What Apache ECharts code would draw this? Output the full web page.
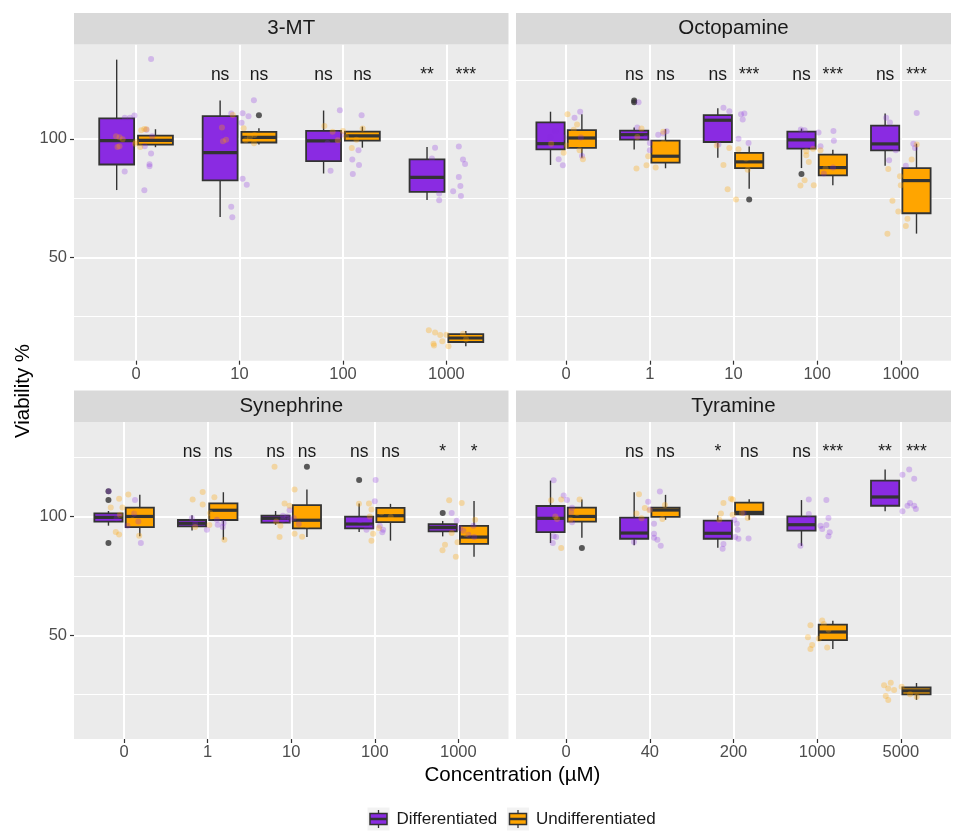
<!DOCTYPE html>
<html>
<head>
<meta charset="utf-8">
<script src="https://cdn.jsdelivr.net/npm/echarts@6/dist/echarts.min.js"></script>
<style>
html, body { margin: 0; padding: 0; background: #fff; }
#chart { width: 963px; height: 838px; }
</style>
</head>
<body>
<div id="chart"></div>
<script>
// facet titles, x categories, y ticks
const panelTitles = ['3-MT', 'Octopamine', 'Synephrine', 'Tyramine'];
const mtCats = ['0', '10', '100', '1000'];
const octCats = ['0', '1', '10', '100', '1000'];
const synCats = ['0', '1', '10', '100', '1000'];
const tyrCats = ['0', '40', '200', '1000', '5000'];
const yMajor = [50, 100];
const yMinor = [25, 75, 125];
const groupNames = ['Differentiated', 'Undifferentiated'];

// box stats per concentration: [lower whisker, q1, median, q3, upper whisker]
const mtDiffBox = [[78.4, 89.2, 99.3, 108.7, 133.5], [67.0, 82.5, 94.2, 109.6, 116.2], [85.4, 90.6, 99.2, 103.4, 112.0], [74.2, 77.6, 83.8, 91.4, 96.6]];
const mtUndiffBox = [[96.5, 97.6, 99.4, 101.4, 104.1], [97.7, 98.5, 100.7, 103.0, 104.5], [96.3, 99.3, 101.3, 103.1, 105.2], [12.4, 14.2, 15.9, 17.5, 18.9]];
const octDiffBox = [[89.0, 95.6, 98.0, 107.0, 111.5], [95.5, 99.7, 101.8, 103.5, 104.8], [92.0, 98.7, 107.9, 110.1, 113.0], [87.7, 95.9, 99.6, 103.1, 104.4], [88.7, 95.2, 97.9, 105.6, 110.7]];
const octUndiffBox = [[92.1, 96.2, 100.4, 103.7, 110.4], [87.6, 90.0, 92.7, 99.3, 104.1], [78.9, 87.7, 90.3, 94.1, 96.8], [80.4, 84.6, 87.9, 93.4, 95.4], [60.0, 68.6, 82.4, 87.7, 98.0]];
const synDiffBox = [[96.2, 97.9, 99.7, 101.4, 102.4], [94.2, 95.9, 97.2, 98.6, 100.6], [96.6, 97.5, 99.3, 100.4, 102.4], [93.5, 95.1, 96.9, 100.0, 105.5], [91.7, 93.8, 95.4, 96.8, 98.2]];
const synUndiffBox = [[91.8, 95.6, 100.1, 103.8, 109.2], [90.3, 98.6, 102.7, 105.6, 110.3], [91.4, 95.1, 98.5, 104.9, 111.4], [89.9, 97.7, 100.4, 103.7, 105.4], [83.1, 88.5, 91.4, 96.1, 106.6]];
const tyrDiffBox = [[88.9, 93.5, 99.3, 104.5, 115.2], [88.0, 90.7, 93.1, 99.6, 110.3], [86.9, 90.7, 93.0, 98.3, 100.6], [87.7, 94.1, 96.6, 100.1, 107.0], [102.3, 104.6, 108.3, 115.2, 119.9]];
const tyrUndiffBox = [[91.1, 97.9, 100.1, 103.8, 107.2], [98.7, 99.9, 102.8, 103.8, 109.2], [98.7, 101.0, 101.8, 105.9, 107.3], [44.2, 48.0, 51.4, 54.5, 56.1], [22.8, 25.1, 26.6, 28.0, 29.9]];

// outliers: [concentration index (1-based), group (0 diff, 1 undiff), value]
const mtOutliers = [[2, 1, 110.0]];
const octOutliers = [[2, 0, 116.2], [2, 0, 115.5], [3, 1, 74.4], [4, 0, 85.2]];
const synOutliers = [[1, 0, 110.7], [1, 0, 107.0], [1, 0, 88.9], [3, 1, 121.0], [4, 0, 115.5], [5, 0, 101.5]];
const tyrOutliers = [[1, 1, 86.8]];

// jittered replicates: [x position on the concentration scale, viability]
const mtDiffPts = [[1.145, 133.8], [0.984, 109.9], [0.94, 108.9], [0.89, 108.9], [1.10, 103.9], [1.155, 101.1], [1.084, 96.9], [1.145, 93.8], [1.13, 89.3], [1.13, 88.5], [0.89, 86.2], [1.08, 78.3],
  [2.139, 116.3], [2.03, 110.8], [2.087, 109.6], [2.02, 106.8], [1.92, 110.7], [1.86, 102.5], [1.85, 99.4], [1.94, 98.2], [2.03, 83.2], [2.07, 80.6], [1.92, 71.3], [1.93, 66.9],
  [2.97, 112.1], [3.18, 110.0], [2.94, 102.3], [2.985, 101.8], [2.95, 98.7], [3.15, 95.2], [3.09, 91.3], [3.155, 89.0], [3.095, 85.2], [2.88, 86.6], [2.85, 98.3],
  [3.89, 96.3], [4.12, 96.8], [3.86, 91.7], [4.16, 91.3], [4.18, 89.4], [4.12, 83.9], [4.135, 80.1], [4.065, 77.9], [4.14, 75.9], [3.93, 74.1], [3.93, 76.9]];
const mtUndiffPts = [[0.806, 101.1], [0.84, 100.7], [0.87, 99.9], [0.82, 96.6], [0.84, 96.9], [1.05, 103.7], [1.08, 104.2], [1.10, 104.1], [1.0, 98.7], [1.04, 96.6], [0.99, 98.0],
  [1.935, 110.1], [2.04, 104.5], [1.83, 104.8], [1.84, 99.0], [2.14, 98.2], [2.145, 101.7], [2.10, 100.8], [2.06, 99.4], [1.87, 99.7],
  [2.82, 105.5], [2.90, 103.0], [3.0, 103.4], [3.03, 100.8], [3.085, 96.2], [3.19, 104.4], [3.13, 99.7], [2.95, 99.4],
  [3.83, 19.2], [3.89, 18.2], [3.94, 17.2], [4.0, 17.3], [3.875, 13.5], [3.88, 12.7], [3.96, 14.5], [4.02, 12.4], [4.16, 17.7], [4.19, 15.4]];
const octDiffPts = [[1.167, 111.5], [1.10, 109.0], [0.87, 103.4], [0.81, 100.6], [0.97, 100.6], [1.175, 100.6], [0.91, 91.4], [0.96, 88.9], [1.19, 92.8],
  [1.865, 115.5], [1.85, 104.8], [1.955, 100.6], [2.0, 98.3], [2.0, 95.2], [2.1, 101.8], [2.2, 103.2], [2.16, 102.3],
  [2.88, 113.2], [2.95, 111.7], [3.09, 110.4], [3.13, 110.7], [3.11, 108.2], [3.06, 100.1], [3.18, 98.3], [2.82, 97.7],
  [3.805, 104.0], [3.85, 103.7], [4.016, 102.7], [4.195, 103.4], [4.2, 99.2], [4.04, 96.9], [4.08, 85.4], [4.19, 87.9],
  [4.825, 109.0], [4.87, 106.9], [5.19, 111.0], [4.94, 95.2], [4.86, 91.0], [5.06, 88.7], [5.15, 98.0], [5.17, 96.2]];
const octUndiffPts = [[1.016, 110.4], [1.13, 106.1], [1.09, 103.9], [1.01, 97.2], [0.97, 94.2], [1.16, 95.2], [1.2, 91.4], [0.82, 98.0],
  [1.90, 104.4], [1.85, 100.8], [1.98, 92.7], [1.96, 88.9], [1.84, 87.5], [2.07, 87.9], [2.16, 103.0], [2.16, 98.3],
  [2.95, 96.2], [3.06, 95.6], [2.88, 89.0], [3.15, 91.7], [3.17, 87.0], [2.93, 78.7], [3.03, 74.4], [2.80, 97.2],
  [3.87, 94.8], [3.87, 93.1], [3.9, 90.3], [3.95, 95.8], [4.04, 95.2], [3.85, 82.5], [3.80, 80.3], [3.96, 80.4], [4.1, 87.5],
  [5.19, 97.6], [5.13, 91.3], [4.85, 87.3], [4.99, 84.2], [5.0, 80.4], [4.9, 73.9], [4.97, 69.3], [5.08, 66.3], [5.06, 63.2], [4.84, 59.9]];
const synDiffPts = [[0.816, 110.7], [1.13, 107.0], [1.12, 101.3], [1.04, 96.2], [1.17, 98.0], [1.2, 88.9], [0.91, 99.3],
  [1.81, 99.3], [1.85, 97.0], [1.99, 94.5], [2.11, 98.7], [2.12, 96.6], [2.18, 95.6], [2.19, 97.3],
  [2.9, 100.4], [2.95, 100.1], [2.98, 102.7], [2.98, 98.7], [2.9, 98.7], [3.09, 96.9], [3.03, 99.4],
  [4.01, 115.5], [4.0, 106.5], [3.82, 98.5], [3.9, 94.5], [3.96, 95.6], [4.06, 96.2], [4.09, 93.4], [4.1, 94.5],
  [4.92, 101.5], [4.98, 98.3], [5.02, 95.1], [5.06, 94.1], [5.12, 92.4], [5.18, 96.2], [5.19, 91.4]];
const synUndiffPts = [[0.94, 107.6], [1.05, 109.3], [0.84, 103.9], [0.98, 103.9], [0.95, 100.8], [1.10, 98.5], [0.90, 93.5], [0.94, 92.5], [1.18, 92.0], [1.15, 102.3],
  [1.82, 107.2], [1.94, 110.4], [1.94, 105.1], [2.08, 108.2], [2.03, 101.5], [2.04, 100.1], [2.02, 96.5], [1.85, 95.6], [2.2, 90.3],
  [2.80, 121.0], [3.04, 111.5], [2.92, 105.6], [2.98, 104.6], [2.82, 98.0], [2.87, 96.2], [2.86, 91.4], [3.04, 92.8], [3.13, 91.5], [3.19, 96.5],
  [3.81, 105.4], [3.93, 105.5], [3.96, 103.0], [3.94, 100.1], [4.08, 101.8], [4.19, 99.9], [4.05, 95.2], [3.98, 92.8], [3.96, 89.9],
  [4.89, 106.9], [5.04, 105.8], [5.2, 98.7], [4.92, 93.1], [4.99, 89.2], [4.84, 88.2], [4.81, 85.9], [4.97, 83.1], [5.09, 92.7]];
const tyrDiffPts = [[0.85, 115.4], [0.97, 108.9], [1.01, 107.0], [1.07, 103.8], [1.06, 102.0], [1.07, 97.6], [0.85, 91.7], [0.84, 88.9], [0.88, 91.4],
  [2.12, 110.6], [1.98, 106.3], [2.0, 103.0], [2.05, 97.0], [2.05, 92.8], [2.05, 91.1], [2.09, 90.3], [2.13, 87.7], [1.81, 89.3],
  [2.88, 88.5], [2.87, 86.5], [3.01, 98.7], [3.04, 97.0], [3.05, 94.5], [3.02, 91.4], [3.06, 90.7], [3.18, 90.8], [3.12, 101.5],
  [3.90, 107.2], [4.11, 107.0], [3.90, 101.1], [4.135, 99.4], [4.04, 96.2], [4.11, 96.5], [4.06, 94.8], [4.15, 93.4], [4.135, 91.7], [3.80, 87.7],
  [5.10, 119.9], [5.02, 117.7], [5.16, 116.0], [5.11, 105.8], [5.08, 104.6], [5.16, 104.6], [5.18, 103.2], [5.02, 102.3]];
const tyrUndiffPts = [[0.82, 106.9], [0.94, 107.2], [1.16, 107.2], [0.89, 99.0], [1.05, 98.7], [1.13, 101.5], [0.94, 86.8], [0.87, 100.1],
  [1.87, 109.4], [1.84, 101.3], [1.94, 103.7], [1.996, 102.7], [1.90, 99.3], [2.15, 99.0], [2.18, 104.9],
  [2.88, 105.8], [2.97, 107.6], [2.99, 107.2], [2.85, 101.3], [2.83, 98.7], [2.99, 100.8], [3.1, 101.5], [3.17, 99.4],
  [3.92, 54.2], [4.06, 56.2], [4.08, 54.8], [3.89, 49.2], [4.02, 48.6], [3.94, 45.9], [3.92, 44.2], [4.12, 44.9], [4.135, 52.3],
  [4.80, 29.0], [4.88, 30.0], [4.85, 27.6], [4.92, 26.9], [4.82, 24.4], [4.85, 22.7], [5.01, 28.3], [5.11, 25.2], [5.19, 24.1]];

// significance vs control, per concentration: [differentiated, undifferentiated]
const mtSig = [['', ''], ['ns', 'ns'], ['ns', 'ns'], ['**', '***']];
const octSig = [['', ''], ['ns', 'ns'], ['ns', '***'], ['ns', '***'], ['ns', '***']];
const synSig = [['', ''], ['ns', 'ns'], ['ns', 'ns'], ['ns', 'ns'], ['*', '*']];
const tyrSig = [['', ''], ['ns', 'ns'], ['*', 'ns'], ['ns', '***'], ['**', '***']];
const sigY = 127;

const panels = [
  { cats: mtCats, diff: mtDiffBox, undiff: mtUndiffBox, out: mtOutliers, dPts: mtDiffPts, uPts: mtUndiffPts, sig: mtSig },
  { cats: octCats, diff: octDiffBox, undiff: octUndiffBox, out: octOutliers, dPts: octDiffPts, uPts: octUndiffPts, sig: octSig },
  { cats: synCats, diff: synDiffBox, undiff: synUndiffBox, out: synOutliers, dPts: synDiffPts, uPts: synUndiffPts, sig: synSig },
  { cats: tyrCats, diff: tyrDiffBox, undiff: tyrUndiffBox, out: tyrOutliers, dPts: tyrDiffPts, uPts: tyrUndiffPts, sig: tyrSig }
];

const font = '"Liberation Sans", Arial, Helvetica, sans-serif';
const fills = ['#8A2BE2', '#FFA500'];
const ptColors = ['rgba(138,43,226,0.33)', 'rgba(255,165,0,0.38)'];
const dodge = 0.1875, halfBox = 0.16875;
const stripH = 31.5;
const grids = [
  { left: 74, top: 44.5, width: 434.5, height: 316.2 },
  { left: 516, top: 44.5, width: 435, height: 316.2 },
  { left: 74, top: 422, width: 434.5, height: 317 },
  { left: 516, top: 422, width: 435, height: 317 }
];

const chart = echarts.init(document.getElementById('chart'));

function renderBox(params, api) {
  const x = api.value(0);
  const lo = api.coord([x, api.value(1)]);
  const q1 = api.coord([x, api.value(2)]);
  const med = api.coord([x, api.value(3)]);
  const q3 = api.coord([x, api.value(4)]);
  const hi = api.coord([x, api.value(5)]);
  const left = api.coord([x - halfBox, api.value(3)])[0];
  const right = api.coord([x + halfBox, api.value(3)])[0];
  const fill = fills[api.value(6)];
  const edge = { stroke: '#333333', lineWidth: 1.4 };
  return {
    type: 'group',
    children: [
      { type: 'line', shape: { x1: lo[0], y1: lo[1], x2: q1[0], y2: q1[1] }, style: edge },
      { type: 'line', shape: { x1: q3[0], y1: q3[1], x2: hi[0], y2: hi[1] }, style: edge },
      { type: 'rect', shape: { x: left, y: q3[1], width: right - left, height: q1[1] - q3[1] }, style: { fill: fill, stroke: '#333333', lineWidth: 1.8 } },
      { type: 'line', shape: { x1: left, y1: med[1], x2: right, y2: med[1] }, style: { stroke: '#333333', lineWidth: 3.2 } }
    ]
  };
}

const xAxes = [], yAxes = [], series = [], graphics = [];

panels.forEach((p, gi) => {
  const n = p.cats.length;
  const ticks = p.cats.map((c, i) => i + 1);
  const leftCol = gi % 2 === 0;
  xAxes.push({
    gridIndex: gi, type: 'value', min: 0.4, max: n + 0.6,
    axisLine: { show: false },
    axisTick: { show: true, customValues: ticks, length: 4, lineStyle: { color: '#333333', width: 1.2 } },
    axisLabel: { customValues: ticks, formatter: v => p.cats[Math.round(v) - 1], color: '#4D4D4D', fontSize: 16.5, fontFamily: font, margin: 5 },
    splitLine: { show: true, lineStyle: { color: '#FFFFFF', width: 2 } }
  });
  yAxes.push({
    gridIndex: gi, type: 'value', min: 6.3, max: 139.9,
    axisLine: { show: false },
    axisTick: { show: leftCol, customValues: yMajor, length: 4, lineStyle: { color: '#333333', width: 1.2 } },
    axisLabel: { show: leftCol, customValues: yMajor, color: '#4D4D4D', fontSize: 16.5, fontFamily: font, margin: 7 },
    splitLine: { show: true, lineStyle: { color: '#FFFFFF', width: 2 } }
  });
  yAxes.push({
    gridIndex: gi, type: 'value', min: 6.3, max: 139.9, position: 'left',
    axisLine: { show: false },
    axisTick: { show: false, customValues: yMinor },
    axisLabel: { show: false, customValues: yMinor },
    splitLine: { show: true, lineStyle: { color: '#FFFFFF', width: 1 } }
  });

  const boxData = [];
  p.diff.forEach((s, i) => boxData.push([i + 1 - dodge].concat(s, [0])));
  p.undiff.forEach((s, i) => boxData.push([i + 1 + dodge].concat(s, [1])));
  series.push({
    type: 'custom', name: 'boxes', xAxisIndex: gi, yAxisIndex: gi * 2, z: 2,
    renderItem: renderBox, data: boxData
  });
  series.push({
    type: 'scatter', xAxisIndex: gi, yAxisIndex: gi * 2, z: 3, symbolSize: 6,
    itemStyle: { color: '#333333' },
    data: p.out.map(o => [o[0] + (o[1] ? dodge : -dodge), o[2]])
  });
  series.push({
    type: 'scatter', name: groupNames[0], xAxisIndex: gi, yAxisIndex: gi * 2, z: 4, symbolSize: 6,
    itemStyle: { color: ptColors[0] }, data: p.dPts
  });
  series.push({
    type: 'scatter', name: groupNames[1], xAxisIndex: gi, yAxisIndex: gi * 2, z: 4, symbolSize: 6,
    itemStyle: { color: ptColors[1] }, data: p.uPts
  });

  const sigItems = [];
  p.sig.forEach((pair, ci) => pair.forEach((txt, g) => {
    if (txt) sigItems.push({ pos: ci + 1 + (g ? dodge : -dodge), txt: txt });
  }));
  series.push({
    type: 'custom', xAxisIndex: gi, yAxisIndex: gi * 2, z: 5,
    data: sigItems.map(d => [d.pos, sigY]),
    renderItem: (params, api) => {
      const pt = api.coord([api.value(0), api.value(1)]);
      return {
        type: 'text', x: pt[0], y: pt[1],
        style: { text: sigItems[params.dataIndex].txt, fontSize: 17.5, fontFamily: font, fill: '#1A1A1A', align: 'center', verticalAlign: 'middle' }
      };
    }
  });

  // facet strip
  const g = grids[gi];
  graphics.push({ type: 'rect', shape: { x: g.left, y: g.top - stripH, width: g.width, height: stripH }, style: { fill: '#D9D9D9' }, z: 1 });
  graphics.push({
    type: 'text', x: g.left + g.width / 2, y: g.top - stripH / 2, z: 2,
    style: { text: panelTitles[gi], fontSize: 20.5, fontFamily: font, fill: '#1A1A1A', align: 'center', verticalAlign: 'middle' }
  });
});

// axis titles
graphics.push({
  type: 'text', x: 512.5, y: 775,
  style: { text: 'Concentration (µM)', fontSize: 20.5, fontFamily: font, fill: '#000000', align: 'center', verticalAlign: 'middle' }
});
graphics.push({
  type: 'text', x: 23, y: 391, rotation: Math.PI / 2,
  style: { text: 'Viability %', fontSize: 20.5, fontFamily: font, fill: '#000000', align: 'center', verticalAlign: 'middle' }
});

// legend keys drawn like ggplot boxplot keys
const keyX = [367.5, 507], textX = [396.5, 536], keyY = 807.5;
groupNames.forEach((name, i) => {
  const kx = keyX[i];
  graphics.push({ type: 'rect', shape: { x: kx, y: keyY, width: 22, height: 23 }, style: { fill: '#F2F2F2' } });
  graphics.push({ type: 'line', shape: { x1: kx + 11, y1: keyY + 2.5, x2: kx + 11, y2: keyY + 20.5 }, style: { stroke: '#333333', lineWidth: 1.3 } });
  graphics.push({ type: 'rect', shape: { x: kx + 2.5, y: keyY + 6, width: 17, height: 11 }, style: { fill: fills[i], stroke: '#333333', lineWidth: 1.5 } });
  graphics.push({ type: 'line', shape: { x1: kx + 2.5, y1: keyY + 11.5, x2: kx + 19.5, y2: keyY + 11.5 }, style: { stroke: '#333333', lineWidth: 2.5 } });
  graphics.push({
    type: 'text', x: textX[i], y: keyY + 11.5,
    style: { text: name, fontSize: 17, fontFamily: font, fill: '#1A1A1A', align: 'left', verticalAlign: 'middle' }
  });
});

chart.setOption({
  animation: false,
  backgroundColor: '#FFFFFF',
  grid: grids.map(g => Object.assign({ show: true, backgroundColor: '#EBEBEB', borderWidth: 0 }, g)),
  xAxis: xAxes,
  yAxis: yAxes,
  series: series,
  graphic: graphics
});
</script>
</body>
</html>
